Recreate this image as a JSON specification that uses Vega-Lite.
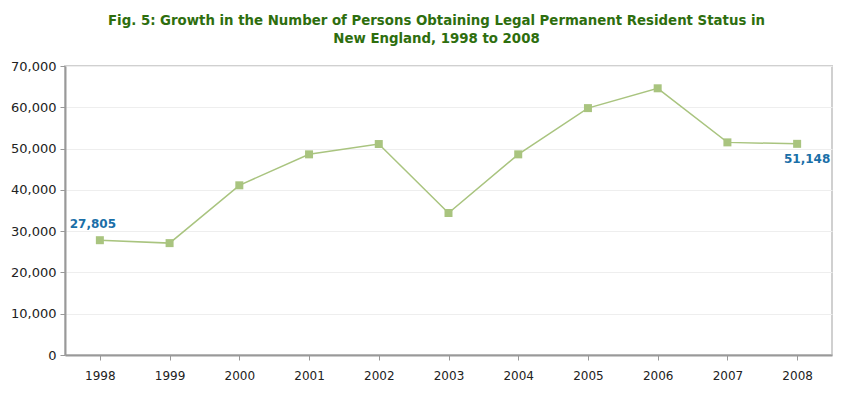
{
  "$schema": "https://vega.github.io/schema/vega-lite/v6.json",
  "width": 850,
  "height": 404,
  "autosize": {"type": "fit", "contains": "padding"},
  "padding": {"left": 10, "right": 18, "top": 13, "bottom": 23},
  "background": "white",
  "title": {
    "text": ["Fig. 5: Growth in the Number of Persons Obtaining Legal Permanent Resident Status in", "New England, 1998 to 2008"],
    "font": "DejaVu Sans Condensed",
    "fontSize": 14.8,
    "fontWeight": "bold",
    "color": "#2E6E0E",
    "anchor": "middle",
    "dx": -12,
    "offset": 14,
    "lineHeight": 18
  },
  "config": {
    "view": {"stroke": "#d0d0d0", "strokeWidth": 2},
    "axis": {"labelFont": "DejaVu Sans", "labelColor": "#222", "domainColor": "#999", "domainWidth": 2, "tickColor": "#999", "gridColor": "#eeeeee"}
  },
  "data": {
    "values": [
      {"year": "1998", "value": 27805, "label": "27,805"},
      {"year": "1999", "value": 27100, "label": ""},
      {"year": "2000", "value": 41100, "label": ""},
      {"year": "2001", "value": 48600, "label": ""},
      {"year": "2002", "value": 51100, "label": ""},
      {"year": "2003", "value": 34400, "label": ""},
      {"year": "2004", "value": 48600, "label": ""},
      {"year": "2005", "value": 59800, "label": ""},
      {"year": "2006", "value": 64600, "label": ""},
      {"year": "2007", "value": 51500, "label": ""},
      {"year": "2008", "value": 51148, "label": "51,148"}
    ]
  },
  "encoding": {
    "x": {"field": "year", "type": "ordinal", "title": null,
      "axis": {"labelAngle": 0, "labelFontSize": 12, "labelPadding": 10, "grid": false, "tickSize": 5}},
    "y": {"field": "value", "type": "quantitative", "title": null,
      "scale": {"domain": [0, 70000]},
      "axis": {"values": [0, 10000, 20000, 30000, 40000, 50000, 60000, 70000], "format": ",d", "labelFontSize": 13, "tickSize": 5, "labelPadding": 4}}
  },
  "layer": [
    {"mark": {"type": "line", "color": "#A9C47F", "strokeWidth": 1.5}},
    {"mark": {"type": "point", "shape": "square", "filled": true, "color": "#A9C47F", "size": 64, "opacity": 1}},
    {"transform": [{"filter": "datum.year == '1998'"}],
     "mark": {"type": "text", "color": "#1A6FA8", "fontWeight": "bold", "fontSize": 12, "font": "DejaVu Sans", "dy": -16, "dx": -7}, "encoding": {"text": {"field": "label"}}},
    {"transform": [{"filter": "datum.year == '2008'"}],
     "mark": {"type": "text", "color": "#1A6FA8", "fontWeight": "bold", "fontSize": 12, "font": "DejaVu Sans", "dy": 15, "dx": 10}, "encoding": {"text": {"field": "label"}}}
  ]
}
